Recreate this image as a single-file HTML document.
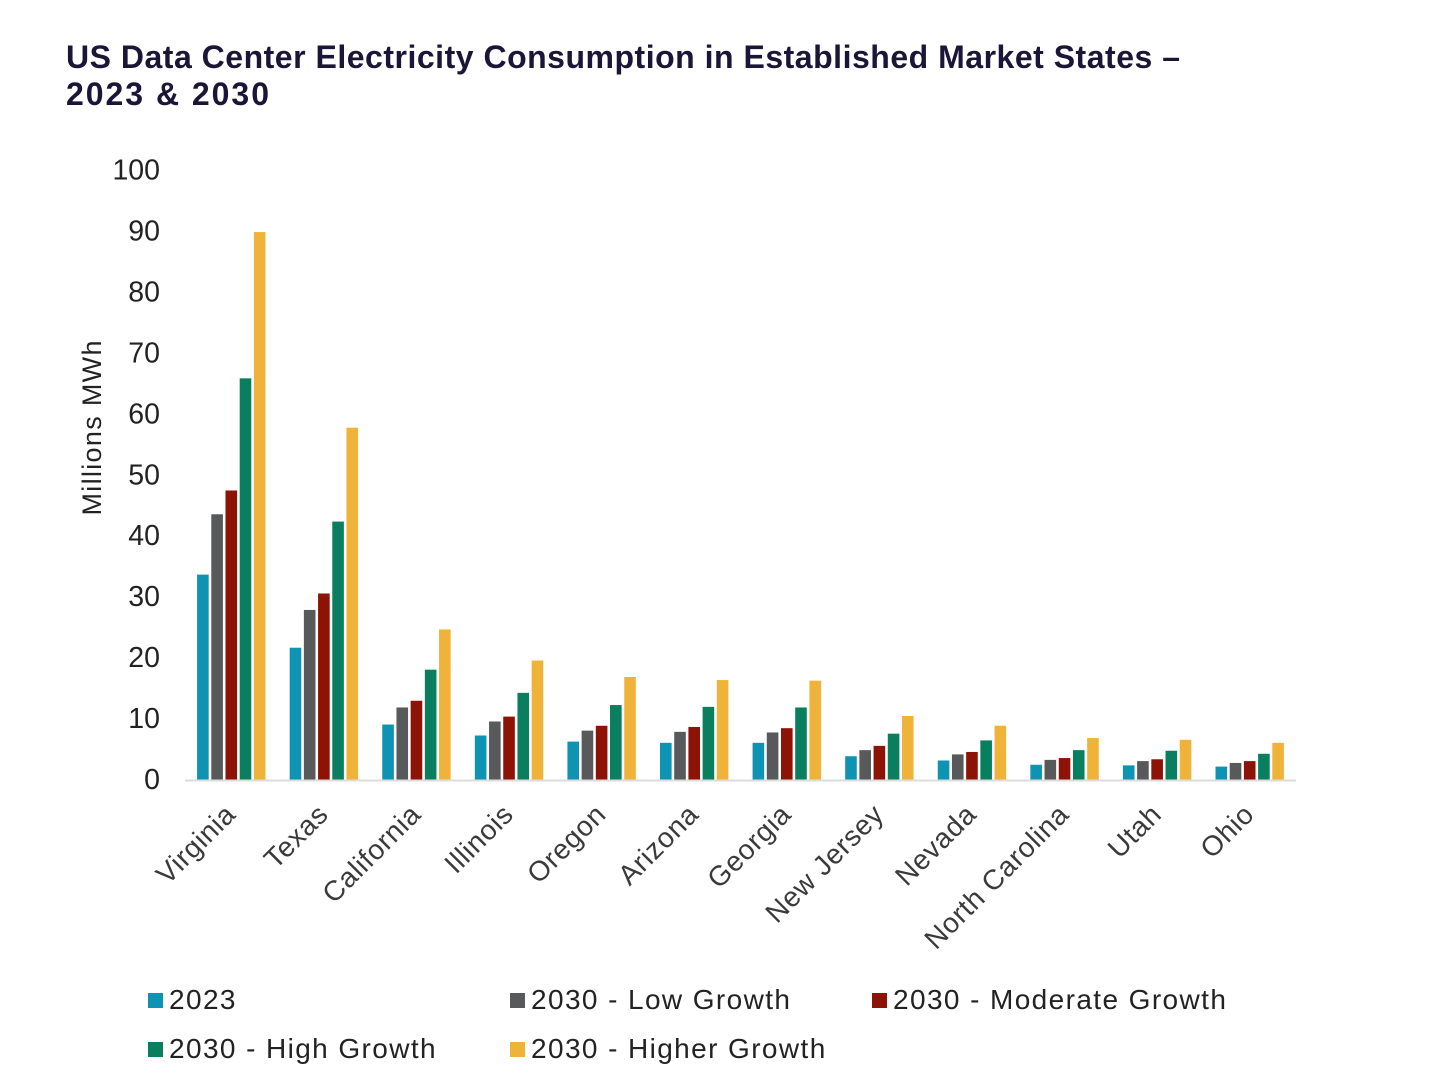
<!DOCTYPE html>
<html lang="en">
<head>
<meta charset="utf-8">
<title>US Data Center Electricity Consumption</title>
<style>
html,body{margin:0;padding:0;background:#fff;}
svg{display:block;font-family:"Liberation Sans",sans-serif;}
</style>
</head>
<body>
<svg id="chart" xmlns="http://www.w3.org/2000/svg" width="1456" height="1087" viewBox="0 0 1456 1087">
  <rect x="0" y="0" width="1456" height="1087" fill="#ffffff"/>
  <g font-weight="bold" font-size="32" fill="#1b1537">
    <text x="66" y="68" textLength="1114" lengthAdjust="spacing">US Data Center Electricity Consumption in Established Market States –</text>
    <text x="66" y="105" textLength="203" lengthAdjust="spacing">2023 &amp; 2030</text>
  </g>
  <text transform="translate(101,428) rotate(-90)" text-anchor="middle" font-size="27" fill="#222222" textLength="175" lengthAdjust="spacing">Millions MWh</text>
  <g id="y-ticks"></g>
  <g id="bars"></g>
  <line x1="185" y1="780.5" x2="1296" y2="780.5" stroke="#dcdcdc" stroke-width="2"/>
  <g id="x-labels"></g>
  <g id="legend"></g>
</svg>
<script>
const categories = ["Virginia","Texas","California","Illinois","Oregon","Arizona","Georgia","New Jersey","Nevada","North Carolina","Utah","Ohio"];
const seriesNames = ["2023","2030 - Low Growth","2030 - Moderate Growth","2030 - High Growth","2030 - Higher Growth"];
const seriesColors = ["#0f93b2","#58595b","#8c1305","#0a7f5f","#f0b33a"];
const values2023 = [33.7,21.7,9.1,7.3,6.3,6.1,6.1,3.9,3.2,2.5,2.4,2.2];
const valuesLow = [43.6,27.9,11.9,9.6,8.1,7.9,7.8,4.9,4.2,3.3,3.1,2.8];
const valuesModerate = [47.5,30.6,13.0,10.4,8.9,8.7,8.5,5.6,4.6,3.6,3.4,3.1];
const valuesHigh = [65.9,42.4,18.1,14.3,12.3,12.0,11.9,7.6,6.5,4.9,4.8,4.3];
const valuesHigher = [89.9,57.8,24.7,19.6,16.9,16.4,16.3,10.5,8.9,6.9,6.6,6.1];
const yTickValues = [0,10,20,30,40,50,60,70,80,90,100];

const allSeries = [values2023, valuesLow, valuesModerate, valuesHigh, valuesHigher];
const NS = "http://www.w3.org/2000/svg";
function yScale(v){ return 780 - v * 6.095; }
function xBand(i){ return 185 + (i + 0.5) * (1111 / categories.length); }
function make(tag, attrs, text){
  const el = document.createElementNS(NS, tag);
  for (const k in attrs) el.setAttribute(k, attrs[k]);
  if (text !== undefined) el.textContent = text;
  return el;
}

const yGroup = document.getElementById("y-ticks");
yTickValues.forEach(function(v){
  const t = make("text", {x:160, y:yScale(v) + 9, "text-anchor":"end", "font-size":28.5, fill:"#222222"}, String(v));
  
  
  yGroup.appendChild(t);
});

const barGroup = document.getElementById("bars");
const barWidth = 11.6, barStep = 14.2;
allSeries.forEach(function(vals, s){
  vals.forEach(function(v, i){
    const x = xBand(i) + (s - 2) * barStep - barWidth / 2;
    const r = make("rect", {x:x, y:yScale(v), width:barWidth, height:780 - yScale(v), fill:seriesColors[s]});
    
    
    barGroup.appendChild(r);
  });
});

const xGroup = document.getElementById("x-labels");
categories.forEach(function(c, i){
  const tx = xBand(i) + 6, ty = 816;
  const t = make("text", {transform:"translate(" + tx + "," + ty + ") rotate(-45)", "text-anchor":"end", "font-size":28, fill:"#3a3a3a", "letter-spacing":"0.7"}, c);
  
  
  xGroup.appendChild(t);
});

const legendGroup = document.getElementById("legend");
const legendX = [148, 510, 872, 148, 510];
const legendY = [1000, 1000, 1000, 1049, 1049];
seriesNames.forEach(function(n, s){
  const sw = make("rect", {x:legendX[s], y:legendY[s] - 7, width:15, height:15, fill:seriesColors[s]});
  
  
  legendGroup.appendChild(sw);
  const t = make("text", {x:legendX[s] + 21, y:legendY[s] + 9, "font-size":28, fill:"#222222", "letter-spacing":"1.4"}, n);
  
  
  legendGroup.appendChild(t);
});
</script>
</body>
</html>
